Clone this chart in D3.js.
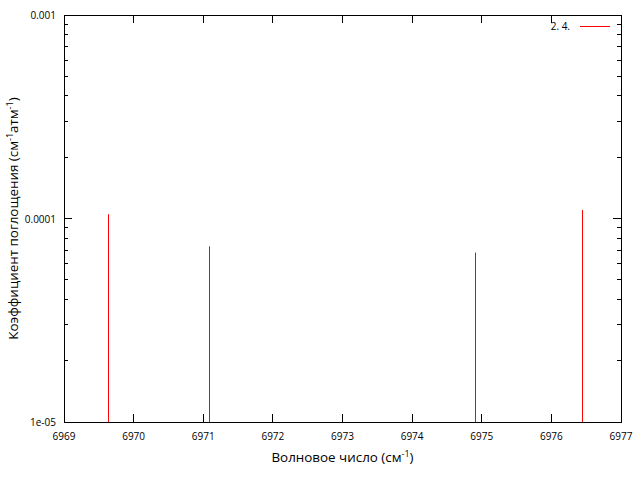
<!DOCTYPE html>
<html><head><meta charset="utf-8">
<script src="https://cdn.jsdelivr.net/npm/d3@7"></script>
<style>body{margin:0;background:#fff;} svg{display:block;} text{font-family:"Open Sans",sans-serif;}</style>
</head><body>
<script>
const wavenumbers = [6969.63, 6971.08, 6974.90, 6976.44];
const absorption = [1.05e-4, 7.3e-5, 6.8e-5, 1.10e-4];
const xTicks = [6969, 6970, 6971, 6972, 6973, 6974, 6975, 6976, 6977];
const yTicks = [1e-5, 1e-4, 1e-3];
const yTickLabels = ["1e-05", "0.0001", "0.001"];
const seriesName = "2. 4.";

const W = 640, H = 480;
const L = 64, R = 621, T = 15, B = 422;
const svg = d3.select("body").append("svg").attr("width", W).attr("height", H);

const x = d3.scaleLinear().domain([6969, 6977]).range([L, R]);
const y = d3.scaleLog().domain([1e-5, 1e-3]).range([B, T]);

// minor ticks on y
const minor = [];
for (let e = -5; e < -3; e++) for (let k = 2; k <= 9; k++) minor.push(k * Math.pow(10, e));

const g = svg.append("g").attr("stroke", "#000").attr("stroke-width", 1).attr("shape-rendering", "crispEdges");
minor.forEach(v => {
  g.append("line").attr("x1", L).attr("x2", L + 4).attr("y1", y(v)).attr("y2", y(v));
  g.append("line").attr("x1", R).attr("x2", R - 4).attr("y1", y(v)).attr("y2", y(v));
});
yTicks.forEach(v => {
  g.append("line").attr("x1", L).attr("x2", L + 8).attr("y1", y(v)).attr("y2", y(v));
  g.append("line").attr("x1", R).attr("x2", R - 8).attr("y1", y(v)).attr("y2", y(v));
});
xTicks.forEach(v => {
  g.append("line").attr("x1", x(v)).attr("x2", x(v)).attr("y1", B).attr("y2", B - 8);
  g.append("line").attr("x1", x(v)).attr("x2", x(v)).attr("y1", T).attr("y2", T + 8);
});

// impulses
svg.append("g").selectAll("line").data(wavenumbers).join("line")
  .attr("x1", d => Math.round(x(d)) + 0.5).attr("x2", d => Math.round(x(d)) + 0.5)
  .attr("y1", y(1e-5)).attr("y2", (d, i) => y(absorption[i]))
  .attr("stroke", "#ff0000").attr("stroke-width", 1);

// frame
svg.append("rect").attr("x", L + 0.5).attr("y", T + 0.5).attr("width", R - L).attr("height", B - T)
  .attr("fill", "none").attr("stroke", "#000").attr("stroke-width", 1);

// tick labels
svg.append("g").selectAll("text").data(xTicks).join("text")
  .attr("x", d => x(d)).attr("y", B + 18).attr("text-anchor", "middle")
  .attr("font-size", 10).attr("fill", "#000").text(d => d);
svg.append("g").selectAll("text").data(yTicks).join("text")
  .attr("x", L - 8).attr("y", d => y(d) + 4).attr("text-anchor", "end")
  .attr("font-size", 10).attr("fill", "#000").text((d, i) => yTickLabels[i]);

// x label
const xl = svg.append("text").attr("x", (L + R) / 2).attr("y", 462).attr("text-anchor", "middle")
  .attr("font-size", 13.4).attr("fill", "#000");
xl.append("tspan").text("Волновое число (см");
xl.append("tspan").attr("dy", -5).attr("font-size", 9).text("-1");
xl.append("tspan").attr("dy", 5).text(")");

// y label
const yl = svg.append("text").attr("transform", `translate(18,${(T + B) / 2}) rotate(-90)`)
  .attr("text-anchor", "middle").attr("font-size", 13.4).attr("fill", "#000");
yl.append("tspan").text("Коэффициент поглощения (см");
yl.append("tspan").attr("dy", -5).attr("font-size", 9).text("-1");
yl.append("tspan").attr("dy", 5).text("атм");
yl.append("tspan").attr("dy", -5).attr("font-size", 9).text("-1");
yl.append("tspan").attr("dy", 5).text(")");

// legend
svg.append("text").attr("x", 570).attr("y", 30).attr("text-anchor", "end")
  .attr("font-size", 10).attr("fill", "#000").text(seriesName);
svg.append("line").attr("x1", 580).attr("x2", 610).attr("y1", 26.5).attr("y2", 26.5)
  .attr("stroke", "#ff0000").attr("stroke-width", 1);
</script>
</body></html>
